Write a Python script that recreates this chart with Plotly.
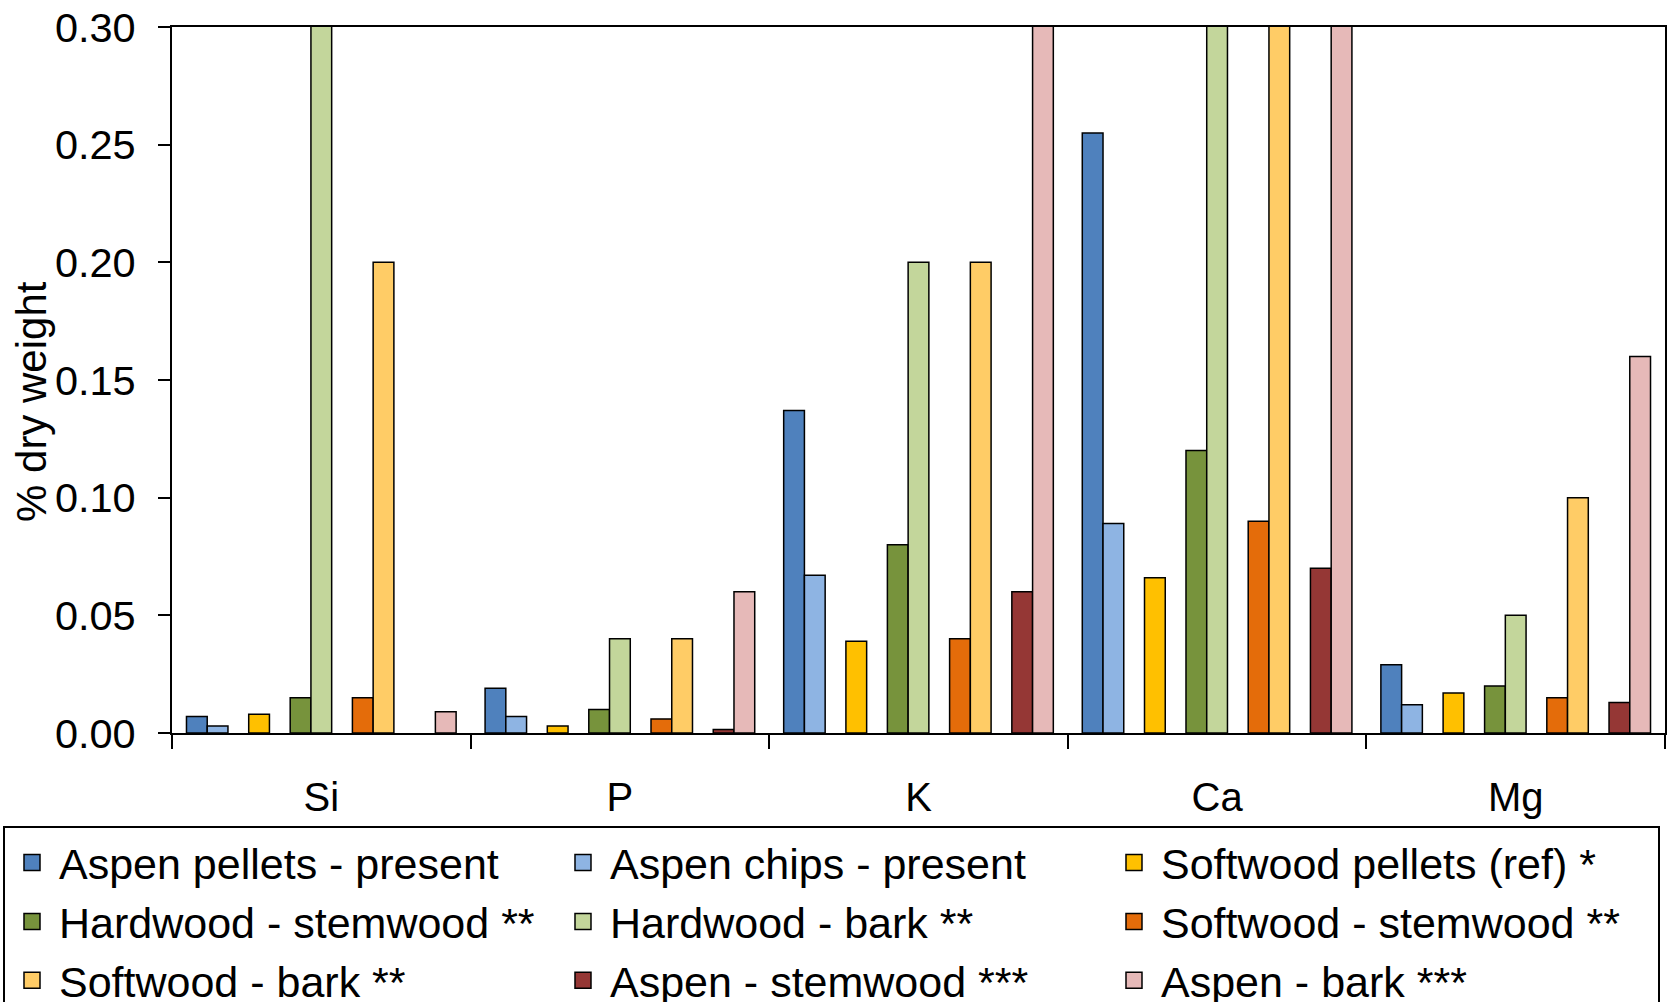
import plotly.graph_objects as go

# Elements (x categories)
elements = ["Si", "P", "K", "Ca", "Mg"]

# Concentrations, % of dry weight, per fuel type
aspen_pellets_present = [0.007, 0.019, 0.137, 0.255, 0.029]
aspen_chips_present = [0.003, 0.007, 0.067, 0.089, 0.012]
softwood_pellets_ref = [0.008, 0.003, 0.039, 0.066, 0.017]
hardwood_stemwood = [0.015, 0.010, 0.080, 0.120, 0.020]
hardwood_bark = [0.35, 0.040, 0.200, 0.35, 0.050]
softwood_stemwood = [0.015, 0.006, 0.040, 0.090, 0.015]
softwood_bark = [0.200, 0.040, 0.200, 0.35, 0.100]
aspen_stemwood = [None, 0.0015, 0.060, 0.070, 0.013]
aspen_bark = [0.009, 0.060, 0.35, 0.35, 0.160]

y_ticks = [0.00, 0.05, 0.10, 0.15, 0.20, 0.25, 0.30]

series = [
    ("Aspen pellets - present", aspen_pellets_present, "#4F81BD"),
    ("Aspen chips - present", aspen_chips_present, "#8EB4E3"),
    ("Softwood pellets (ref) *", softwood_pellets_ref, "#FFC000"),
    ("Hardwood - stemwood **", hardwood_stemwood, "#77933C"),
    ("Hardwood - bark **", hardwood_bark, "#C3D69B"),
    ("Softwood - stemwood **", softwood_stemwood, "#E46C0A"),
    ("Softwood - bark **", softwood_bark, "#FFCC66"),
    ("Aspen - stemwood ***", aspen_stemwood, "#953735"),
    ("Aspen - bark ***", aspen_bark, "#E6B9B8"),
]

# Empty slots after these series separate the bar pairs within each group
spacer_after = {1, 2, 4, 6}

FONT = "Liberation Sans, Arial, sans-serif"

fig = go.Figure()

for i, (name, vals, color) in enumerate(series):
    fig.add_trace(go.Bar(
        x=elements, y=vals, name=name, showlegend=False,
        marker=dict(color=color, line=dict(color="black", width=1.5)),
    ))
    if i in spacer_after:
        fig.add_trace(go.Bar(
            x=elements, y=[None] * len(elements), showlegend=False,
            hoverinfo="skip", marker=dict(line=dict(width=0)),
        ))

# Legend entries with larger square swatches
for name, vals, color in series:
    fig.add_trace(go.Scatter(
        x=[None], y=[None], mode="markers", name=name,
        marker=dict(symbol="square", size=16, color=color,
                    line=dict(color="black", width=1.5)),
    ))

fig.update_layout(
    width=1671, height=1002,
    margin=dict(l=172, r=6, t=27, b=269, autoexpand=False),
    paper_bgcolor="white", plot_bgcolor="white",
    barmode="group", bargap=0.097, bargroupgap=0,
    font=dict(family=FONT, color="black"),
    legend=dict(
        orientation="h", x=-0.1132, y=-0.1318, xanchor="left", yanchor="top",
        entrywidth=492, entrywidthmode="pixels", itemwidth=44,
        font=dict(size=43, family=FONT, color="black"),
        bordercolor="black", borderwidth=2, bgcolor="white",
        traceorder="normal",
    ),
    annotations=[dict(
        text="% dry weight", textangle=-90, showarrow=False,
        xref="paper", yref="paper", x=-0.0937, y=0.469,
        xanchor="center", yanchor="middle",
        font=dict(size=42, family=FONT, color="black"),
    )],
)

fig.update_xaxes(
    type="category", categoryorder="array", categoryarray=elements,
    tickson="boundaries", ticks="outside", ticklen=14, tickwidth=2,
    tickcolor="black", showline=True, linecolor="black", linewidth=2,
    mirror=True, showgrid=False, ticklabelstandoff=28,
    tickfont=dict(size=40, family=FONT, color="black"),
)

fig.update_yaxes(
    range=[0, 0.30], tickvals=y_ticks, tickformat=".2f",
    ticks="outside", ticklen=12, tickwidth=2, tickcolor="black",
    showline=True, linecolor="black", linewidth=2, mirror=True,
    showgrid=False, zeroline=False, ticklabelstandoff=14,
    tickfont=dict(size=41.5, family=FONT, color="black"),
)

fig.write_html("out.html")
